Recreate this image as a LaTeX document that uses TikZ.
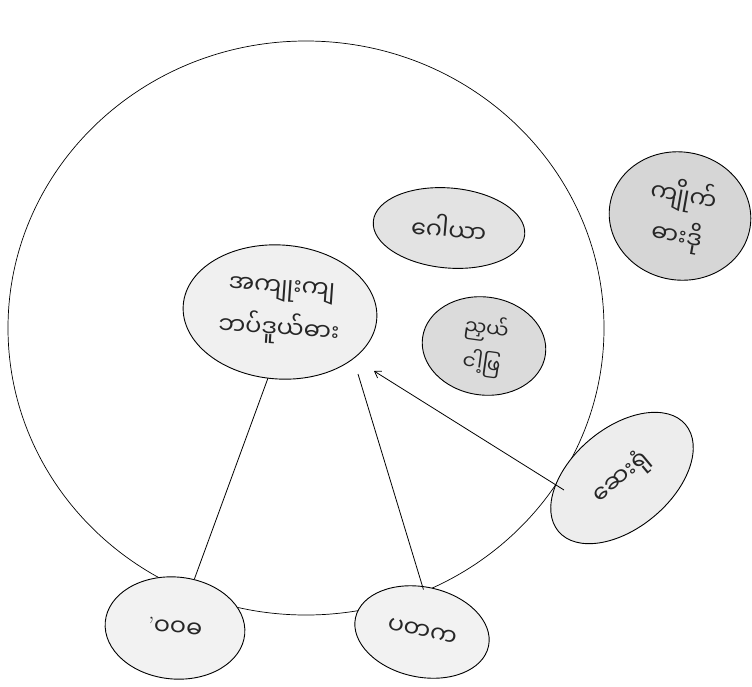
\documentclass[tikz,border=0pt]{standalone}
\usepackage{fontspec}
\newfontfamily\my[Script=Myanmar]{Noto Sans Myanmar UI}
\usetikzlibrary{shapes.geometric,arrows.meta}
\begin{document}
\begin{tikzpicture}[x=1pt,y=-1pt,
  blob/.style={ellipse,draw=black,line width=0.9pt,inner sep=0pt,font=\my\fontsize{24}{30}\selectfont,align=center,text=black!85},
  link/.style={draw=black,line width=0.8pt}]
\useasboundingbox (0,0) rectangle (752,686);
\fill[white] (0,0) rectangle (752,686);
% big circle
\node[ellipse,draw=black,line width=0.7pt,minimum width=596pt,minimum height=574pt] (world) at (306,328) {};
% center
\node[blob,fill=gray!12,minimum width=194pt,minimum height=134pt,rotate=-4] (core) at (280,312) {အကျုးကျ\\[10pt]ဘပ်ဒူယ်ဓား};
\node[blob,fill=gray!22,minimum width=152pt,minimum height=80pt,rotate=-5] (top) at (449,228) {ဂေါယာ};
\node[blob,fill=gray!28,minimum width=124pt,minimum height=98pt,rotate=-8,font=\my\fontsize{20}{24}\selectfont] (mid) at (484,346) {ညှယ်\\[8pt]ငါ့ဖြ};
\node[blob,fill=gray!32,minimum width=142pt,minimum height=128pt,rotate=-10] (far) at (680,216) {ကျိုက်\\[8pt]ဓားဒို};
\node[blob,fill=gray!14,minimum width=166pt,minimum height=100pt,rotate=40] (hosp) at (622,478) {ဆေးရုံ};
\node[blob,fill=gray!10,minimum width=140pt,minimum height=102pt,rotate=-5] (bl) at (175,628) {{\rmfamily '}ဝဝဓ};
\node[blob,fill=gray!10,minimum width=136pt,minimum height=90pt,rotate=-12] (bm) at (422,632) {ပတက};
% connectors
\path (bl.north) ++(15,2) coordinate (a1);
\draw[link] (a1) -- (268,378);
\path (bm.north) ++(-8,2) coordinate (a2);
\draw[link] (a2) -- (358,374);
\coordinate (a3) at (564,490);
\draw[link,-{Straight Barb[length=6pt,width=8pt]}] (a3) -- (374,371);
\end{tikzpicture}
\end{document}
